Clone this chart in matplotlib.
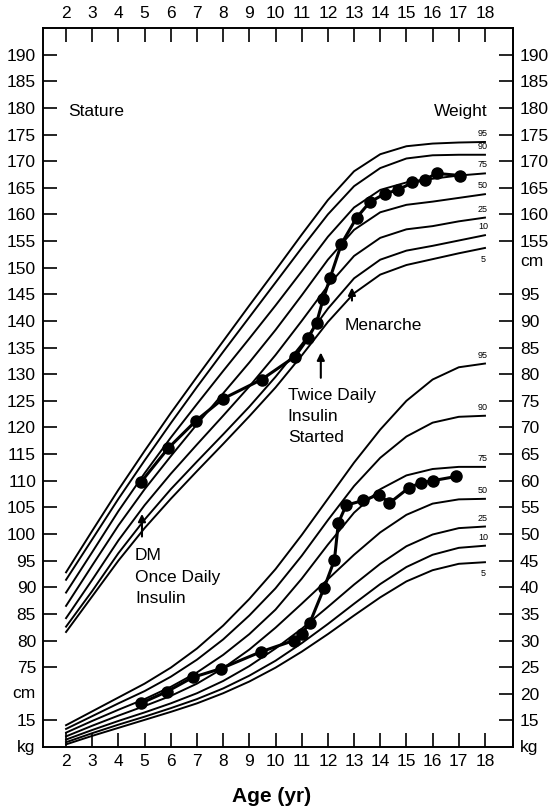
import numpy as np
import matplotlib.pyplot as plt

plt.rcParams['font.family'] = ['Liberation Sans', 'DejaVu Sans']

# percentile curves, read at whole years 2..18
ages = np.arange(2, 19)
pct_labels = ['95', '90', '75', '50', '25', '10', '5']

stature_95 = [92.8, 100.6, 108.3, 115.6, 122.7, 129.5, 136.2, 142.9, 149.5, 156.2, 162.7, 168.1, 171.3, 172.8, 173.3, 173.5, 173.6]
stature_90 = [91.4, 99.0, 106.6, 113.8, 120.8, 127.6, 134.2, 140.7, 147.2, 153.7, 160.0, 165.3, 168.7, 170.5, 171.1, 171.2, 171.2]
stature_75 = [89.0, 96.6, 104.3, 111.4, 118.1, 124.4, 130.6, 136.7, 142.9, 149.3, 155.8, 161.3, 164.6, 166.0, 166.7, 167.3, 167.7]
stature_50 = [86.5, 94.1, 101.6, 108.4, 114.6, 120.6, 126.4, 132.2, 138.3, 144.8, 151.5, 157.1, 160.4, 161.8, 162.4, 163.1, 163.8]
stature_25 = [84.2, 91.4, 98.8, 105.4, 111.3, 116.8, 122.2, 127.7, 133.6, 140.0, 146.6, 152.2, 155.6, 157.2, 157.8, 158.7, 159.4]
stature_10 = [82.6, 89.3, 96.4, 102.7, 108.4, 113.6, 118.7, 123.9, 129.5, 135.6, 142.3, 148.0, 151.5, 153.2, 154.1, 155.1, 156.1]
stature_5 = [81.6, 88.3, 95.0, 101.1, 106.6, 111.8, 116.9, 122.1, 127.5, 133.5, 139.8, 145.2, 148.7, 150.5, 151.6, 152.7, 153.7]

weight_95 = [14.1, 16.7, 19.3, 21.9, 24.9, 28.5, 32.8, 37.8, 43.4, 49.8, 56.6, 63.4, 69.6, 75.0, 79.0, 81.3, 82.0]
weight_90 = [13.4, 15.8, 18.2, 20.5, 23.2, 26.4, 30.2, 34.7, 39.8, 45.9, 52.6, 59.0, 64.3, 68.3, 70.9, 72.0, 72.2]
weight_75 = [12.7, 14.9, 17.0, 19.0, 21.3, 24.0, 27.3, 31.2, 35.8, 41.6, 48.0, 54.0, 58.4, 61.0, 62.2, 62.6, 62.6]
weight_50 = [12.0, 14.0, 15.9, 17.7, 19.6, 21.9, 24.8, 28.3, 32.4, 36.9, 41.5, 46.1, 50.3, 53.6, 55.7, 56.5, 56.6]
weight_25 = [11.4, 13.2, 14.9, 16.5, 18.2, 20.1, 22.4, 25.2, 28.5, 32.2, 36.3, 40.5, 44.4, 47.7, 49.9, 51.1, 51.4]
weight_10 = [10.9, 12.6, 14.2, 15.7, 17.3, 19.0, 21.0, 23.4, 26.2, 29.5, 33.1, 36.9, 40.6, 43.8, 46.1, 47.4, 47.8]
weight_5 = [10.5, 12.1, 13.6, 15.1, 16.6, 18.2, 20.1, 22.3, 24.9, 27.9, 31.2, 34.7, 38.1, 41.1, 43.2, 44.4, 44.7]

# patient measurements
pt_st_age = [4.87, 5.9, 6.97, 8.0, 9.47, 10.74, 11.25, 11.57, 11.82, 12.08, 12.52, 13.1, 13.6, 14.18, 14.68, 15.23, 15.7, 16.15, 17.06]
pt_st = [109.8, 116.1, 121.3, 125.4, 129.0, 133.3, 136.8, 139.7, 144.1, 148.0, 154.5, 159.4, 162.3, 163.9, 164.6, 166.0, 166.5, 167.7, 167.3]
pt_wt_age = [4.85, 5.85, 6.85, 7.9, 9.45, 10.7, 11.0, 11.3, 11.85, 12.25, 12.4, 12.7, 13.35, 13.95, 14.35, 15.1, 15.55, 16.0, 16.9]
pt_wt = [18.2, 20.4, 23.1, 24.7, 27.9, 30.0, 31.3, 33.2, 39.8, 45.1, 52.1, 55.4, 56.3, 57.4, 55.8, 58.7, 59.6, 60.0, 60.8]

x_ticks = list(range(2, 19))
st_left_ticks = list(range(190, 70, -5))
st_right_ticks = list(range(190, 150, -5))
wt_right_ticks = list(range(95, 10, -5))

FS = 12.5
fig = plt.figure(figsize=(5.5, 8.09), dpi=100)
ax = fig.add_axes([0.0782, 0.0766, 0.8545, 0.8888])
ax.set_xlim(1.12, 19.07)
ax.set_ylim(60, 195)
axw = ax.twinx()
axw.set_ylim(10, 145)

stature = [stature_95, stature_90, stature_75, stature_50, stature_25, stature_10, stature_5]
weight = [weight_95, weight_90, weight_75, weight_50, weight_25, weight_10, weight_5]

for lab, s, w in zip(pct_labels, stature, weight):
    ax.plot(ages, s, color='k', lw=1.4, solid_joinstyle='round')
    axw.plot(ages, w, color='k', lw=1.4, solid_joinstyle='round')
    off = -2.2 if lab == '5' else 1.6
    ax.text(17.92, s[-1] + off, lab, fontsize=6.5, ha='center', va='center')
    axw.text(17.92, w[-1] + off, lab, fontsize=6.5, ha='center', va='center')

ax.plot(pt_st_age, pt_st, 'o-', color='k', lw=2.2, ms=8)
axw.plot(pt_wt_age, pt_wt, 'o-', color='k', lw=2.2, ms=8)

# axes / ticks
tick_kw = dict(direction='in', length=10, width=1.2, labelsize=FS, pad=5)
ax.set_xticks(x_ticks)
ax.tick_params(axis='x', top=True, labeltop=True, **tick_kw)
wt_to_st = ax.get_ylim()[0] - axw.get_ylim()[0]
ax.set_yticks(st_left_ticks + [15 + wt_to_st])
ax.set_yticklabels([str(v) for v in st_left_ticks] + ['15'])
ax.tick_params(axis='y', left=True, right=False, **tick_kw)

axw.set_yticks(wt_right_ticks)
axw.tick_params(axis='y', **tick_kw)
sec = ax.secondary_yaxis('right')
sec.set_yticks(st_right_ticks)
sec.tick_params(axis='y', **tick_kw)

for a in (ax, axw):
    for sp in a.spines.values():
        sp.set_linewidth(1.2)
for sp in sec.spines.values():
    sp.set_linewidth(1.2)

ax.text(-0.017, 70, 'cm', transform=ax.get_yaxis_transform(), ha='right', va='center', fontsize=FS)
ax.text(-0.017, 60, 'kg', transform=ax.get_yaxis_transform(), ha='right', va='center', fontsize=FS)
ax.text(1.015, 152.6, 'cm', transform=ax.get_yaxis_transform(), ha='left', va='top', fontsize=FS)
ax.text(1.015, 60, 'kg', transform=ax.get_yaxis_transform(), ha='left', va='center', fontsize=FS)

ax.text(2.08, 179.3, 'Stature', fontsize=FS, ha='left', va='center')
ax.text(18.1, 179.3, 'Weight', fontsize=FS, ha='right', va='center')

arrow = dict(arrowstyle='-|>', lw=1.5, color='k', mutation_scale=11)
ax.annotate('', xy=(4.9, 104.3), xytext=(4.9, 99.0), arrowprops=arrow)
ax.annotate('', xy=(11.73, 134.6), xytext=(11.73, 128.8), arrowprops=arrow)
ax.annotate('', xy=(12.92, 146.8), xytext=(12.92, 143.3), arrowprops=arrow)

for y, t in zip([96.0, 91.9, 87.9], ['DM', 'Once Daily', 'Insulin']):
    ax.text(4.63, y, t, fontsize=FS, ha='left', va='center')
for y, t in zip([126.0, 122.1, 118.1], ['Twice Daily', 'Insulin', 'Started']):
    ax.text(10.47, y, t, fontsize=FS, ha='left', va='center')
ax.text(12.65, 139.2, 'Menarche', fontsize=FS, ha='left', va='center')

fig.text(272 / 550, 1 - 796 / 809, 'Age (yr)', fontsize=15, fontweight='bold', ha='center', va='center')

fig.savefig('out.png', dpi=100)
